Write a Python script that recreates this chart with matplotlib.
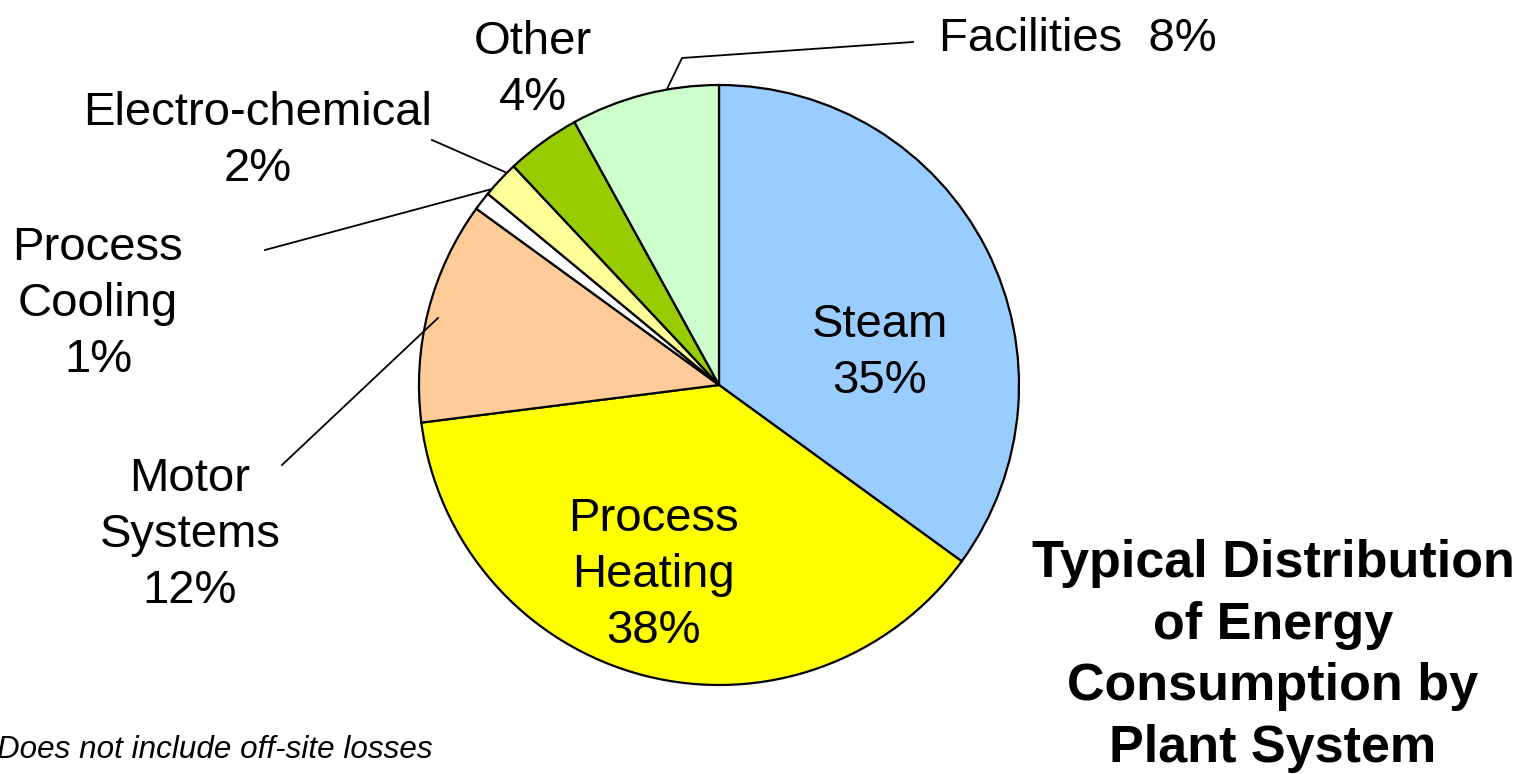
import matplotlib.pyplot as plt

# data
categories = ["Steam", "Process Heating", "Motor Systems", "Process Cooling",
              "Electro-chemical", "Other", "Facilities"]
shares = [35, 38, 12, 1, 2, 4, 8]
colors = ["#99CCFF", "#FFFF00", "#FFCC99", "#FFFFFF", "#FFFF99", "#99CC00", "#CCFFCC"]
label_text = ["Steam\n35%", "Process\nHeating\n38%", "Motor\nSystems\n12%",
              "Process\nCooling\n1%", "Electro-chemical\n2%", "Other\n4%",
              "Facilities  8%"]

# layout (pixel coords, y down)
W, H = 1526, 774
cx, cy, R = 719, 385, 300
label_pos = [(880, 353), (653, 575), (190, 535), (98, 304),
             (258, 141), (533, 70), (1078, 39)]
leaders = {
    "Motor Systems": [(282, 465), (438, 318)],
    "Process Cooling": [(265, 250), (492, 189)],
    "Electro-chemical": [(432, 140), (505, 172)],
    "Facilities": [(913, 42), (682, 58), (667, 89)],
}

plt.rcParams['font.family'] = ['Liberation Sans', 'DejaVu Sans']

fig = plt.figure(figsize=(W / 100, H / 100), dpi=100)
ax = fig.add_axes([0, 0, 1, 1])

# y axis is inverted below, so angles flip: start -90 and go counterclock
ax.pie(shares, colors=colors, startangle=-90, counterclock=True,
       center=(cx, cy), radius=R,
       wedgeprops=dict(edgecolor="black", linewidth=1.6))

for txt, (x, y) in zip(label_text, label_pos):
    ax.text(x, y, txt, ha="center", va="center", fontsize=34, linespacing=1.36)

for name, pts in leaders.items():
    ax.plot([p[0] for p in pts], [p[1] for p in pts], color="black", lw=1.3)

ax.text(1273, 656, "Typical Distribution\nof Energy\nConsumption by\nPlant System",
        ha="center", va="center", fontsize=37.5, fontweight="bold", linespacing=1.33)

ax.text(-3, 750, "Does not include off-site losses", ha="left", va="center",
        fontsize=22.6, style="italic")

ax.set_xlim(0, W)
ax.set_ylim(H, 0)
ax.set_aspect("equal")
ax.axis("off")

fig.savefig("out.png", dpi=100)
